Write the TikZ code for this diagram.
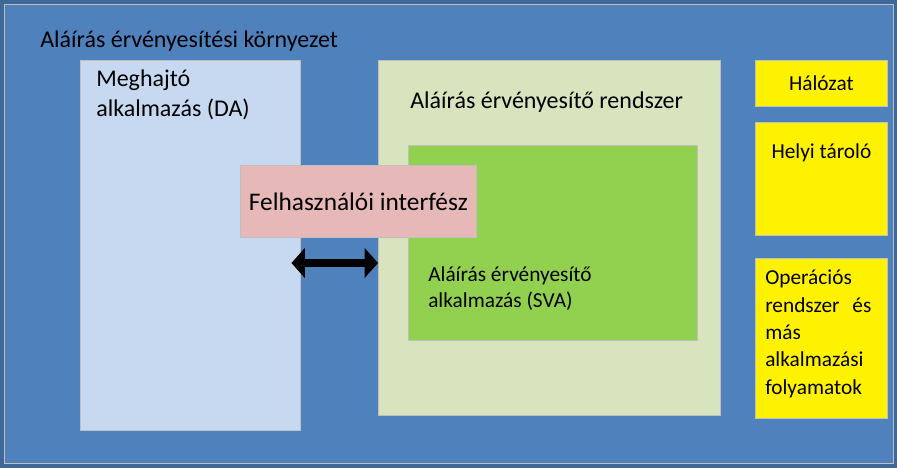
\documentclass[tikz,border=0pt]{standalone}
\usepackage{fontspec}
\setmainfont{Carlito}
\usetikzlibrary{arrows.meta}
\definecolor{envblue}{HTML}{4F81BD}
\definecolor{dablue}{HTML}{C6D9F1}
\definecolor{syslight}{HTML}{D7E4BD}
\definecolor{svagreen}{HTML}{92D050}
\definecolor{uipink}{HTML}{E6B9B8}
\begin{document}
\begin{tikzpicture}[
    x=0.75pt, y=-0.75pt,
    box/.style={draw=black!25, line width=0.6pt},
    txt/.style={font=\fontsize{18}{22}\selectfont, inner sep=0pt},
    side/.style={box, fill=yellow, anchor=north west}
]
    % Environment
    \useasboundingbox (0,0) rectangle (897,468);
    \fill[envblue!80!black] (0,0) rectangle (897,468);
    \node[box, fill=envblue, minimum width=889*0.75pt, minimum height=459*0.75pt, anchor=north west] (env) at (4,4) {};
    \node[txt, anchor=north west] (envlbl) at (40,31) {Aláírás érvényesítési környezet};

    % Driving application
    \node[box, fill=dablue, minimum width=220*0.75pt, minimum height=370*0.75pt, anchor=north west] (da) at (80,60) {};
    \node[txt, anchor=north west, align=left] (dalbl) at (96,70) {Meghajtó\\alkalmazás (DA)};

    % Validation system
    \node[box, fill=syslight, minimum width=342*0.75pt, minimum height=355*0.75pt, anchor=north west] (sys) at (378,60) {};
    \node[txt, anchor=north west] (syslbl) at (410,92) {Aláírás érvényesítő rendszer};
    \node[box, fill=svagreen, minimum width=289*0.75pt, minimum height=195*0.75pt, anchor=north west] (sva) at (408,145) {};
    \node[txt, anchor=north west, align=left, font=\fontsize{16}{20}\selectfont] (svalbl) at (428,266) {Aláírás érvényesítő\\alkalmazás (SVA)};

    % User interface
    \node[box, fill=uipink, minimum width=236*0.75pt, minimum height=72*0.75pt, anchor=north west,
          font=\fontsize{19}{22}\selectfont] (ui) at (240,165) {Felhasználói interfész};

    % Double arrow
    \coordinate (arr) at (0,263);
    \draw[line width=6.5pt, {Triangle[length=10pt,width=22pt]}-{Triangle[length=10pt,width=22pt]}]
        ([xshift=-7]da.east |- arr) -- (sys.west |- arr);

    % Side resources
    \node[side, minimum width=132*0.75pt, minimum height=46*0.75pt] (net) at (755,60) {};
    \node[txt, font=\fontsize{16}{20}\selectfont] at (net) {Hálózat};
    \node[side, minimum width=132*0.75pt, minimum height=113*0.75pt] (store) at (755,122) {};
    \node[txt, anchor=north, font=\fontsize{16}{20}\selectfont] at ([yshift=-16]store.north) {Helyi tároló};
    \node[side, minimum width=132*0.75pt, minimum height=160*0.75pt] (os) at (755,258) {};
    \node[txt, anchor=north west, align=left, font=\fontsize{16}{20.5}\selectfont] at (765,270)
        {Operációs\\rendszer\hspace{0.6em}és\\más\\alkalmazási\\folyamatok};
\end{tikzpicture}
\end{document}
